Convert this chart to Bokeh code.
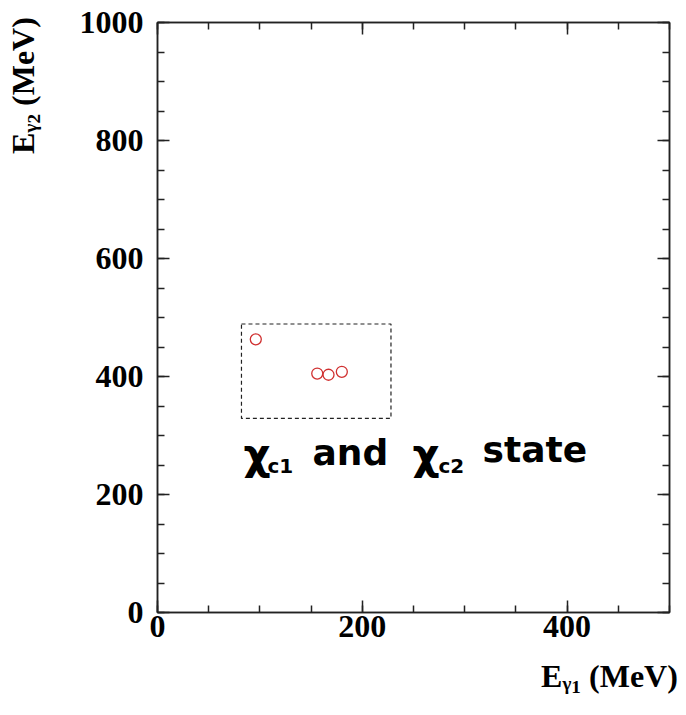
from bokeh.plotting import figure
from bokeh.models import (ColumnDataSource, LinearAxis, SingleIntervalTicker, Label, Range1d,
                          CustomLabelingPolicy)
from bokeh.embed import file_html
from bokeh.resources import INLINE

# ---- data ----
e_gamma1 = [96, 156, 167, 180]          # MeV
e_gamma2 = [463, 405, 403, 408]         # MeV
box_x = [82, 228]                        # dashed selection window, E_gamma1
box_y = [329, 489]                       # dashed selection window, E_gamma2
x_ticks_major = 200
y_ticks_major = 200
x_title = "E\u1d67\u2081 (MeV)"
y_title = "E\u1d67\u2082 (MeV)"

SERIF = "Liberation Serif"
SANS = "DejaVu Sans"
EM = "\u2003"     # non-collapsing em space, used to push the centred axis titles to the end
NB = "\u00a0"

p = figure(width=686, height=715, output_backend="svg", toolbar_location=None,
           x_range=Range1d(0, 500), y_range=Range1d(0, 1000),
           x_axis_location=None, y_axis_location=None,
           min_border_left=157, min_border_right=17,
           min_border_top=22, min_border_bottom=103)
p.background_fill_color = "white"
p.border_fill_color = "white"
p.grid.visible = False
p.outline_line_color = "#222222"
p.outline_line_width = 1.5


def make_axis(interval, show_labels, standoff):
    ax = LinearAxis(ticker=SingleIntervalTicker(interval=interval, num_minor_ticks=4))
    ax.axis_line_color = "#222222"
    ax.axis_line_width = 1.5
    ax.major_tick_in = 12
    ax.major_tick_out = 0
    ax.minor_tick_in = 7
    ax.minor_tick_out = 0
    ax.major_tick_line_color = "#222222"
    ax.minor_tick_line_color = "#222222"
    ax.major_tick_line_width = 1.5
    ax.minor_tick_line_width = 1.5
    if show_labels:
        ax.major_label_text_font = SERIF
        ax.major_label_text_font_style = "bold"
        ax.major_label_text_font_size = "32px"
        ax.major_label_text_color = "black"
        ax.major_label_standoff = standoff
    else:
        # mirror axis: ticks only, no labels drawn and no space reserved
        ax.major_label_text_font_size = "0px"
        ax.major_label_policy = CustomLabelingPolicy(
            code="for (const i of indices) { indices.unset(i) } return indices")
        ax.major_label_standoff = 0
    return ax


def style_title(ax, text, standoff):
    ax.axis_label = text
    ax.axis_label_standoff = standoff
    ax.axis_label_text_font = SERIF
    ax.axis_label_text_font_style = "bold"
    ax.axis_label_text_font_size = "32px"
    ax.axis_label_text_color = "black"


xax = make_axis(x_ticks_major, True, 3)
style_title(xax, EM * 12 + NB + x_title, 18)
yax = make_axis(y_ticks_major, True, 14)
style_title(yax, EM * 14 + NB * 2 + y_title, 36)

p.add_layout(xax, "below")
p.add_layout(yax, "left")
p.add_layout(make_axis(x_ticks_major, False, 0), "above")
p.add_layout(make_axis(y_ticks_major, False, 0), "right")

# dashed window
p.quad(left=[box_x[0]], right=[box_x[1]], bottom=[box_y[0]], top=[box_y[1]],
       fill_color=None, line_color="#222222", line_width=1.2, line_dash="4 3")

# data points
src = ColumnDataSource(dict(x=e_gamma1, y=e_gamma2))
p.scatter("x", "y", source=src, marker="circle", size=11, fill_color=None,
          line_color="#d03030", line_width=1.3)


def lab(x, y, text, size, font=SANS, style="bold"):
    p.add_layout(Label(x=x, y=y, text=text,
                       text_font=font, text_font_style=style,
                       text_font_size=size, text_color="black", text_align="left",
                       text_baseline="alphabetic"))


# annotation text: chi_c1 and chi_c2 state
lab(84.0, 268, "χ", "42px")
lab(107.4, 248, "c1", "20px")
lab(151.4, 271, "and", "36px")
lab(249.0, 268, "χ", "42px")
lab(274.4, 248, "c2", "20px")
lab(317.4, 277, "state", "36px")

open("out.html", "w").write(file_html(p, INLINE))
